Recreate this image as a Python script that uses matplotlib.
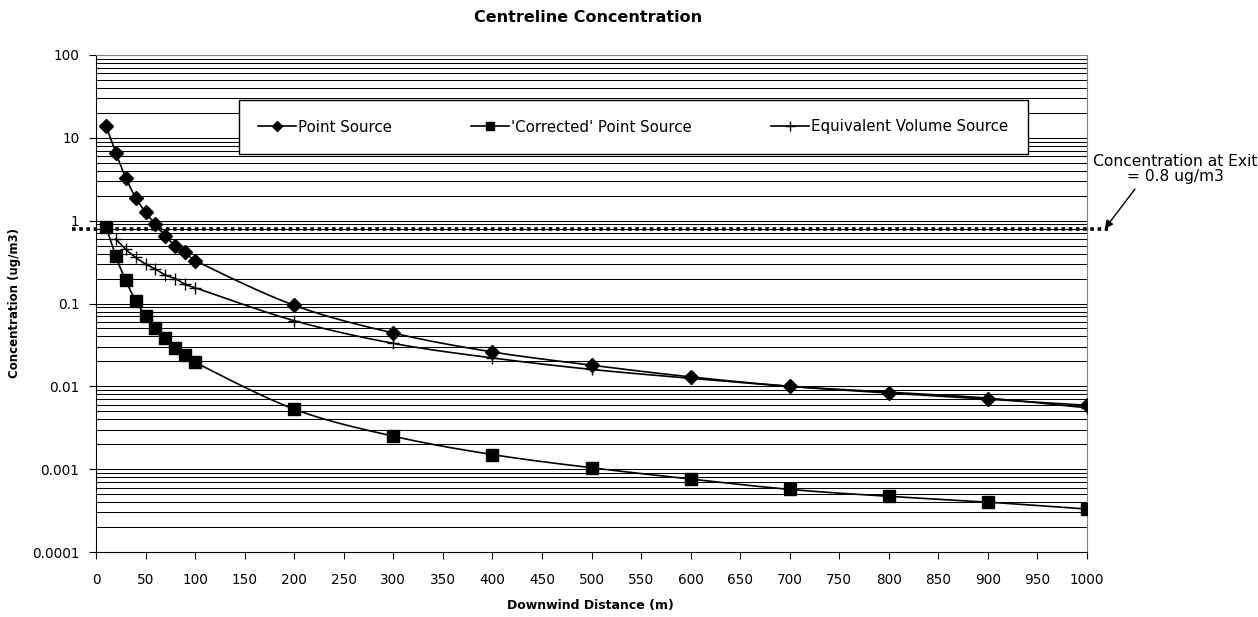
import numpy as np
import matplotlib
matplotlib.use("Agg")
import matplotlib.pyplot as plt
from matplotlib.ticker import FixedLocator, FuncFormatter, LogLocator, NullFormatter

plt.rcParams['font.family'] = ['DejaVu Sans']

# data
distance = [10, 20, 30, 40, 50, 60, 70, 80, 90, 100,
            200, 300, 400, 500, 600, 700, 800, 900, 1000]
point_source = [14, 6.6, 3.3, 1.9, 1.26, 0.9, 0.65, 0.5, 0.42, 0.33,
                0.095, 0.044, 0.026, 0.018, 0.013, 0.010, 0.0083, 0.0070, 0.0059]
corrected_source = [0.85, 0.37, 0.19, 0.108, 0.071, 0.05, 0.038, 0.029, 0.024, 0.0195,
                    0.0053, 0.0025, 0.0015, 0.00104, 0.00076, 0.00057, 0.00047, 0.0004, 0.00033]
volume_distance = [20, 30, 40, 50, 60, 70, 80, 90, 100,
                   200, 300, 400, 500, 600, 700, 800, 900, 1000]
volume_source = [0.6, 0.45, 0.36, 0.3, 0.26, 0.22, 0.2, 0.17, 0.155,
                 0.062, 0.033, 0.022, 0.016, 0.0125, 0.0100, 0.0085, 0.0072, 0.0055]
exit_conc = 0.8
y_tick_labels = ["0.0001", "0.001", "0.01", "0.1", "1", "10", "100"]


def smooth_line(x, y, n=30, yscale=82.7):
    # Excel-style bezier smoothing, done in (x, log y) "pixel" space
    X = np.asarray(x, float)
    Y = np.log10(np.asarray(y, float)) * yscale
    P = np.column_stack([X, Y])
    m = len(P)
    out = [P[0]]
    for i in range(m - 1):
        p0 = P[i - 1] if i > 0 else P[i]
        p1, p2 = P[i], P[i + 1]
        p3 = P[i + 2] if i + 2 < m else P[i + 1]
        seg = np.linalg.norm(p2 - p1)
        t1 = (p2 - p0) / 6.0
        t2 = (p3 - p1) / 6.0
        if np.linalg.norm(t1) > seg / 2:
            t1 = t1 / np.linalg.norm(t1) * seg / 2
        if np.linalg.norm(t2) > seg / 2:
            t2 = t2 / np.linalg.norm(t2) * seg / 2
        c1, c2 = p1 + t1, p2 - t2
        t = np.linspace(0, 1, n)[1:, None]
        b = ((1 - t) ** 3) * p1 + 3 * ((1 - t) ** 2) * t * c1 + 3 * (1 - t) * t ** 2 * c2 + t ** 3 * p2
        out.extend(b)
    out = np.array(out)
    return out[:, 0], 10 ** (out[:, 1] / yscale)


fig = plt.figure(figsize=(12.58, 6.17), dpi=100)
ax = fig.add_axes([96 / 1258, 1 - 552 / 617, (1087 - 96) / 1258, (552 - 55) / 617])

ax.set_yscale('log')
ax.set_ylim(1e-4, 100)
ax.set_xlim(0, 1000)

# horizontal gridlines at every major and minor position
ax.yaxis.set_major_locator(FixedLocator([1e-4, 1e-3, 1e-2, 1e-1, 1, 10, 100]))
ax.yaxis.set_major_formatter(FuncFormatter(lambda v, p: y_tick_labels[int(round(np.log10(v))) + 4]))
ax.yaxis.set_minor_locator(LogLocator(base=10, subs=np.arange(2, 10), numticks=20))
ax.yaxis.set_minor_formatter(NullFormatter())
ax.grid(True, axis='y', which='both', color='black', linewidth=0.75)
ax.set_axisbelow(True)
ax.tick_params(axis='y', which='minor', length=0)
ax.tick_params(axis='y', which='major', length=5, direction='out', labelsize=9.8, pad=7)
ax.set_xticks(np.arange(0, 1001, 50))
ax.tick_params(axis='x', length=5, direction='out', labelsize=9.8, pad=10)

ax.spines['top'].set_color('#808080')
ax.spines['right'].set_color('#808080')
for s in ['left', 'bottom']:
    ax.spines[s].set_color('black')

# concentration at exit
ax.plot([-24, 1021], [exit_conc, exit_conc], color='black', linewidth=2.6,
        linestyle=(0, (1, 1)), dash_capstyle='butt', clip_on=False, zorder=3)

sx, sy = smooth_line(distance, point_source)
ax.plot(sx, sy, color='black', linewidth=1.2, zorder=4)
ax.plot(distance, point_source, linestyle='none', marker='D', markersize=7.5,
        color='black', zorder=5)
sx, sy = smooth_line(distance, corrected_source)
ax.plot(sx, sy, color='black', linewidth=1.2, zorder=4)
ax.plot(distance, corrected_source, linestyle='none', marker='s', markersize=8.5,
        color='black', zorder=5)
sx, sy = smooth_line(volume_distance, volume_source)
ax.plot(sx, sy, color='black', linewidth=1.2, zorder=4)
ax.plot(volume_distance, volume_source, linestyle='none', marker='+', markersize=8,
        markeredgewidth=1.0, color='black', zorder=5)

# legend proxies
h1, = ax.plot([], [], color='black', linewidth=1.2, marker='D', markersize=5)
h2, = ax.plot([], [], color='black', linewidth=1.2, marker='s', markersize=6)
h3, = ax.plot([], [], color='black', linewidth=1.2, marker='+', markersize=7)
leg = fig.legend([h1, h2, h3],
                 ["Point Source", "'Corrected' Point Source", "Equivalent Volume Source"],
                 loc='center', ncol=3, fontsize=10.8, frameon=True, fancybox=False,
                 edgecolor='black', framealpha=1, handlelength=2.5, handletextpad=0.15,
                 columnspacing=5.3, borderpad=1.3,
                 bbox_to_anchor=(633 / 1258, 1 - 127 / 617))
leg.get_frame().set_linewidth(1.0)
leg.set_zorder(10)

ax.annotate('', xy=(1018, exit_conc), xycoords='data',
            xytext=(1135, 617 - 189), textcoords='figure pixels',
            arrowprops=dict(arrowstyle='-|>', color='black', linewidth=1.0,
                            mutation_scale=12, shrinkA=0, shrinkB=0),
            annotation_clip=False)
fig.text(1175 / 1258, 1 - 169 / 617, "Concentration at Exit\n= 0.8 ug/m3",
         ha='center', va='center', fontsize=11.2, linespacing=1.05)

fig.text(588 / 1258, 1 - 18 / 617, "Centreline Concentration", ha='center', va='center',
         fontsize=11.5, fontweight='bold')
fig.text(590 / 1258, 1 - 606 / 617, "Downwind Distance (m)", ha='center', va='center',
         fontsize=9, fontweight='bold')
fig.text(15 / 1258, 1 - 303 / 617, "Concentration (ug/m3)", ha='center', va='center',
         rotation=90, fontsize=8.5, fontweight='bold')

fig.savefig('out.png', dpi=100)
